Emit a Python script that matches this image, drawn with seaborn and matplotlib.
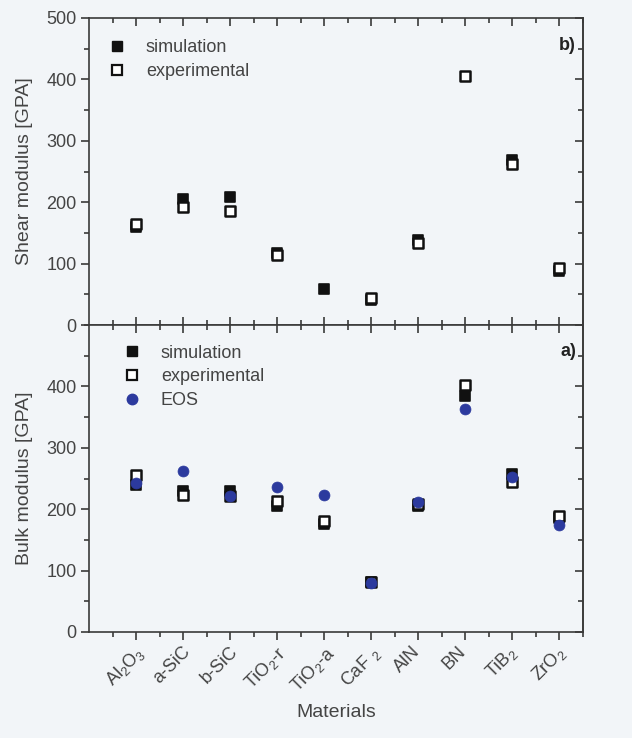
import numpy as np
import pandas as pd
import matplotlib
matplotlib.use("Agg")
import matplotlib.pyplot as plt
import matplotlib.transforms as mtransforms
from matplotlib.ticker import MultipleLocator, FixedLocator
from matplotlib.lines import Line2D
import seaborn as sns

# ---------------- data ----------------
materials = ["Al$_2$O$_3$", "a-SiC", "b-SiC", "TiO$_2$-r", "TiO$_2$-a",
             "CaF $_2$", "AlN", "BN", "TiB$_2$", "ZrO$_2$"]
shear_sim = [160, 206, 208, 118, 58, 40, 138, np.nan, 268, 88]
shear_exp = [164, 192, 186, 114, np.nan, 44, 134, 405, 262, 93]
bulk_sim = [240, 229, 230, 205, 176, 81, 206, 385, 258, 185]
bulk_exp = [256, 223, 222, 213, 180, 81, 209, 402, 244, 189]
bulk_eos = [242, 262, 221, 236, 223, 80, 212, 363, 252, 175]
legend_shear = ["simulation", "experimental"]
legend_bulk = ["simulation", "experimental", "EOS"]

# ---------------- style ----------------
sns.set_style("ticks")
plt.rcParams["font.family"] = ["Liberation Sans", "DejaVu Sans"]
plt.rcParams["mathtext.fontset"] = "custom"
plt.rcParams["mathtext.rm"] = "Liberation Sans"
plt.rcParams["mathtext.it"] = "Liberation Sans"
plt.rcParams["mathtext.default"] = "regular"

BG = "#f2f5f8"
TXT = "#444444"
SPN = "#3a3a3a"
BLK = "#111111"
BLUE = "#2c3a9e"

pos = np.arange(1, len(materials) + 1)
df = pd.DataFrame({"pos": pos, "shear_sim": shear_sim, "shear_exp": shear_exp,
                   "bulk_sim": bulk_sim, "bulk_exp": bulk_exp, "bulk_eos": bulk_eos})

fig = plt.figure(figsize=(6.32, 7.38), dpi=100, facecolor=BG)
L, W = 89 / 632, 494 / 632
H = 307 / 738
ax_top = fig.add_axes([L, (738 - 325) / 738, W, H])
ax_bot = fig.add_axes([L, (738 - 632) / 738, W, H])

sq_s = 46
circ_s = 62

for ax in (ax_top, ax_bot):
    ax.set_facecolor(BG)
    ax.set_xlim(0, 10.5)
    ax.set_ylim(0, 500)
    for sp in ax.spines.values():
        sp.set_color(SPN)
        sp.set_linewidth(1.2)
    ax.xaxis.set_major_locator(FixedLocator(pos))
    ax.xaxis.set_minor_locator(FixedLocator(np.arange(0.5, 10.6, 1.0)))
    ax.yaxis.set_major_locator(MultipleLocator(100))
    ax.yaxis.set_minor_locator(MultipleLocator(50))
    ax.tick_params(axis="y", which="both", direction="out", left=True, right=False,
                   colors=SPN, labelcolor=TXT, labelsize=13, width=1.2, pad=3)
    ax.tick_params(axis="y", which="major", length=6)
    ax.tick_params(axis="y", which="minor", length=3.5)
    sec = ax.secondary_yaxis("right")
    sec.yaxis.set_major_locator(MultipleLocator(100))
    sec.yaxis.set_minor_locator(MultipleLocator(50))
    sec.tick_params(which="both", direction="in", labelright=False, colors=SPN, width=1.2)
    sec.tick_params(which="major", length=6)
    sec.tick_params(which="minor", length=3.5)
    sec.spines["right"].set_color(SPN)
    sec.spines["right"].set_linewidth(1.2)

# top panel: shear
sns.scatterplot(data=df, x="pos", y="shear_sim", marker="s", s=sq_s, color=BLK,
                edgecolor=BLK, linewidth=1.2, ax=ax_top, zorder=3, legend=False)
sns.scatterplot(data=df, x="pos", y="shear_exp", marker="s", s=sq_s, color="white",
                edgecolor=BLK, linewidth=1.8, ax=ax_top, zorder=4, legend=False)
ax_top.tick_params(axis="x", which="both", direction="in", top=True, bottom=True,
                   labelbottom=False, colors=SPN, width=1.2)
ax_top.tick_params(axis="x", which="major", length=6)
ax_top.tick_params(axis="x", which="minor", length=3.5)
ax_top.set_xlabel("")
ax_top.set_ylabel("Shear modulus [GPA]", fontsize=14, color=TXT)
ax_top.yaxis.set_label_coords(-0.113, 0.5)
ax_top.text(0.986, 0.91, "b)", transform=ax_top.transAxes, ha="right", va="center",
            fontsize=13, fontweight="bold", color="#222222")

# bottom panel: bulk
sns.scatterplot(data=df, x="pos", y="bulk_sim", marker="s", s=sq_s, color=BLK,
                edgecolor=BLK, linewidth=1.2, ax=ax_bot, zorder=3, legend=False)
sns.scatterplot(data=df, x="pos", y="bulk_exp", marker="s", s=sq_s, color="white",
                edgecolor=BLK, linewidth=1.8, ax=ax_bot, zorder=4, legend=False)
sns.scatterplot(data=df, x="pos", y="bulk_eos", marker="o", s=circ_s, color=BLUE,
                edgecolor=BLUE, linewidth=0.5, ax=ax_bot, zorder=5, legend=False)
ax_bot.set_yticks([0, 100, 200, 300, 400])
ax_bot.yaxis.set_minor_locator(MultipleLocator(50))
ax_bot.set_ylim(0, 500)
ax_bot.tick_params(axis="x", which="both", direction="out", top=False, bottom=True,
                   colors=SPN, labelcolor=TXT, labelsize=13, width=1.2, pad=2)
ax_bot.tick_params(axis="x", which="major", length=6)
ax_bot.tick_params(axis="x", which="minor", length=3.5)
ax_bot.set_xticklabels(materials, rotation=45, ha="center")
offset = mtransforms.ScaledTranslation(-11 / 100, 0, fig.dpi_scale_trans)
for lab in ax_bot.get_xticklabels():
    lab.set_transform(lab.get_transform() + offset)
secx = ax_bot.secondary_xaxis("top")
secx.xaxis.set_major_locator(FixedLocator(pos))
secx.xaxis.set_minor_locator(FixedLocator(np.arange(0.5, 10.6, 1.0)))
secx.tick_params(which="both", direction="in", labeltop=False, colors=SPN, width=1.2)
secx.tick_params(which="major", length=6)
secx.tick_params(which="minor", length=3.5)
secx.spines["top"].set_visible(False)
ax_bot.set_xlabel("Materials", fontsize=14, color=TXT, labelpad=6)
ax_bot.set_ylabel("Bulk modulus [GPA]", fontsize=14, color=TXT)
ax_bot.yaxis.set_label_coords(-0.113, 0.5)
ax_bot.text(0.986, 0.915, "a)", transform=ax_bot.transAxes, ha="right", va="center",
            fontsize=13, fontweight="bold", color="#222222")

# legends
h_sim = Line2D([], [], ls="", marker="s", ms=6.5, mfc=BLK, mec=BLK, mew=1.0)
h_exp = Line2D([], [], ls="", marker="s", ms=6.5, mfc="white", mec=BLK, mew=1.6)
h_eos = Line2D([], [], ls="", marker="o", ms=7.5, mfc=BLUE, mec=BLUE)
leg_kw = dict(frameon=False, fontsize=13, labelcolor=TXT, handlelength=1.0,
              handletextpad=1.1, labelspacing=0.38, borderaxespad=0.0)
ax_top.legend([h_sim, h_exp], legend_shear, loc="upper left",
              bbox_to_anchor=(0.024, 0.955), **leg_kw)
ax_bot.legend([h_sim, h_exp, h_eos], legend_bulk, loc="upper left",
              bbox_to_anchor=(0.054, 0.96), **leg_kw)

fig.savefig("out.png", dpi=100, facecolor=BG)
